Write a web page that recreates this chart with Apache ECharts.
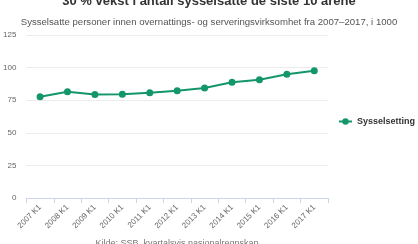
<!DOCTYPE html>
<html>
<head>
<meta charset="utf-8">
<script src="https://cdn.jsdelivr.net/npm/echarts@6/dist/echarts.min.js"></script>
<style>
html, body { margin: 0; padding: 0; background: #fff; }
#main { width: 418px; height: 244px; }
</style>
</head>
<body>
<div id="main"></div>
<script>
var years = ['2007 K1', '2008 K1', '2009 K1', '2010 K1', '2011 K1', '2012 K1', '2013 K1', '2014 K1', '2015 K1', '2016 K1', '2017 K1'];
var sysselsetting = [77.7, 81.5, 79.3, 79.5, 80.8, 82.3, 84.4, 88.7, 90.7, 94.9, 97.6];
var yTicks = [0, 25, 50, 75, 100, 125];

var chart = echarts.init(document.getElementById('main'));
var font = 'Liberation Sans, Arial, sans-serif';

chart.setOption({
    animation: false,
    textStyle: { fontFamily: font },
    title: [{
        text: '30 % vekst i antall sysselsatte de siste 10 årene',
        left: 'center',
        top: -10,
        textStyle: { fontSize: 13, fontWeight: 'bold', color: '#333', fontFamily: font }
    }, {
        text: 'Sysselsatte personer innen overnattings- og serveringsvirksomhet fra 2007–2017, i 1000',
        left: 'center',
        top: 12,
        textStyle: { fontSize: 9.6, fontWeight: 'normal', color: '#555', fontFamily: font }
    }, {
        text: 'Kilde: SSB, kvartalsvis nasjonalregnskap',
        left: 172,
        textAlign: 'center',
        top: 234,
        textStyle: { fontSize: 9, fontWeight: 'normal', color: '#777', fontFamily: font }
    }],
    legend: {
        orient: 'vertical',
        left: 333,
        top: 112,
        itemWidth: 13,
        itemHeight: 8,
        data: ['Sysselsetting'],
        textStyle: { fontSize: 9, fontWeight: 'bold', color: '#333', fontFamily: font }
    },
    grid: {
        left: 26,
        right: 90,
        top: 35,
        bottom: 46,
        containLabel: false
    },
    xAxis: {
        type: 'category',
        data: years,
        boundaryGap: true,
        axisLine: { lineStyle: { color: '#ccd6eb' } },
        axisTick: { show: true, length: 5, alignWithLabel: false, lineStyle: { color: '#ccd6eb' } },
        axisLabel: { rotate: 45, fontSize: 8, color: '#666', margin: 8, interval: 0 }
    },
    yAxis: {
        type: 'value',
        min: yTicks[0],
        max: yTicks[yTicks.length - 1],
        interval: 25,
        axisLine: { show: false },
        axisTick: { show: false },
        axisLabel: { fontSize: 8, color: '#666', margin: 10 },
        splitLine: { lineStyle: { color: '#ececec' } }
    },
    series: [{
        name: 'Sysselsetting',
        type: 'line',
        data: sysselsetting,
        symbol: 'circle',
        symbolSize: 7,
        color: '#13966b',
        lineStyle: { width: 2, color: '#13966b' },
        itemStyle: { color: '#13966b' }
    }]
});
</script>
</body>
</html>
